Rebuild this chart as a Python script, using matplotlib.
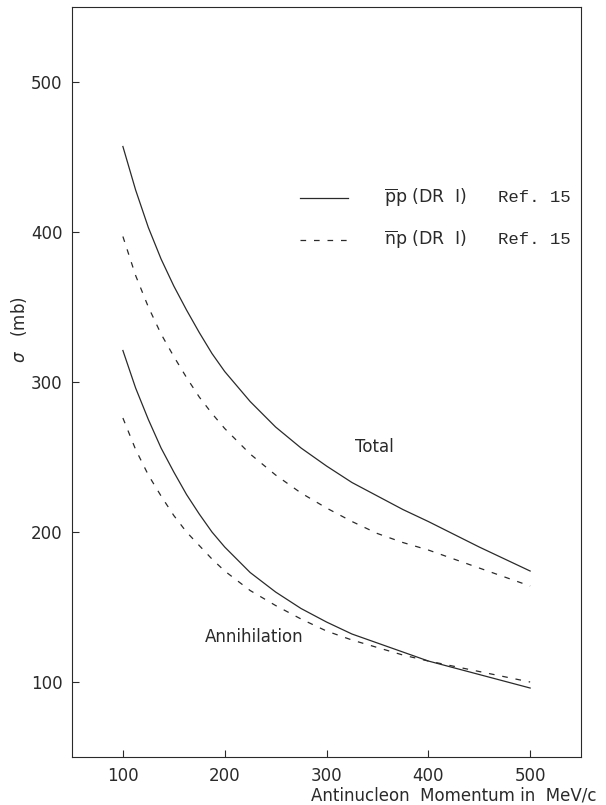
import matplotlib
matplotlib.use("Agg")
import matplotlib.pyplot as plt
from matplotlib.lines import Line2D

# Antinucleon momentum (MeV/c)
momentum = [100, 112.5, 125, 137.5, 150, 162.5, 175, 187.5, 200, 225, 250,
            275, 300, 325, 350, 375, 400, 425, 450, 475, 500]

# Cross sections in mb
pbar_p_total = [457, 428, 403, 382, 364, 348, 333, 319, 307, 287, 270,
                256, 244, 233, 224, 215, 207, 198.5, 190, 182, 174]
nbar_p_total = [397, 371, 350, 332, 317, 303, 290, 279, 269, 252, 238,
                226, 216, 207, 199, 193, 188, 182, 176, 170, 164]
pbar_p_annih = [321, 296, 275, 256, 240, 225, 212, 200, 190, 173, 160,
                149, 140, 132, 126, 120, 114, 109.5, 105, 100.5, 96]
nbar_p_annih = [276, 255, 238, 224, 211, 200, 191, 182, 174, 161, 151,
                142, 134, 128, 123, 118, 114, 110.5, 107, 103.5, 100]

x_ticks = [100, 200, 300, 400, 500]
y_ticks = [100, 200, 300, 400, 500]

ink = "#2a2a2a"
plt.rcParams["font.family"] = ["DejaVu Sans"]
plt.rcParams["mathtext.fontset"] = "dejavusans"

fig = plt.figure(figsize=(6.06, 8.05), dpi=100)
ax = fig.add_axes([0.1188, 0.0596, 0.840, 0.9317])

lw = 0.9
dash = (0, (4.5, 6.3))
ax.plot(momentum, pbar_p_total, color=ink, lw=lw)
ax.plot(momentum, nbar_p_total, color=ink, lw=lw, linestyle=dash)
ax.plot(momentum, pbar_p_annih, color=ink, lw=lw)
ax.plot(momentum, nbar_p_annih, color=ink, lw=lw, linestyle=dash)

ax.set_xlim(50, 550)
ax.set_ylim(50, 550)
ax.set_xticks(x_ticks)
ax.set_yticks(y_ticks)
ax.tick_params(axis="both", direction="in", length=5, width=0.8, colors=ink,
               labelsize=12, top=False, right=False)
ax.tick_params(axis="y", pad=7)
ax.tick_params(axis="x", pad=7)
for sp in ax.spines.values():
    sp.set_linewidth(0.8)
    sp.set_color(ink)

ax.set_ylabel(r"$\sigma$   (mb)", fontsize=12, color=ink)
ax.yaxis.set_label_coords(-0.085, 0.57)
fig.text(0.985, 0.001, "Antinucleon  Momentum in  MeV/c", ha="right", va="bottom",
         fontsize=12, color=ink)

# Curve annotations
ax.text(328, 257, "Total", fontsize=12, color=ink, va="center", ha="left")
ax.text(277, 130, "Annihilation", fontsize=12, color=ink, va="center", ha="right")

# Key
ax.add_line(Line2D([274, 321], [423, 423], color=ink, lw=lw))
ax.add_line(Line2D([274, 321], [395, 395], color=ink, lw=lw, linestyle=dash))
ax.text(356, 423, r"$\overline{\mathrm{p}}\mathrm{p}$ (DR  I)", fontsize=12.5,
        color=ink, va="center", ha="left")
ax.text(356, 395, r"$\overline{\mathrm{n}}\mathrm{p}$ (DR  I)", fontsize=12.5,
        color=ink, va="center", ha="left")
ax.text(468, 423, "Ref. 15", fontsize=12.5, color=ink, va="center", ha="left",
        family="Liberation Mono")
ax.text(468, 395, "Ref. 15", fontsize=12.5, color=ink, va="center", ha="left",
        family="Liberation Mono")

fig.savefig("out.png", dpi=100, facecolor="white")
